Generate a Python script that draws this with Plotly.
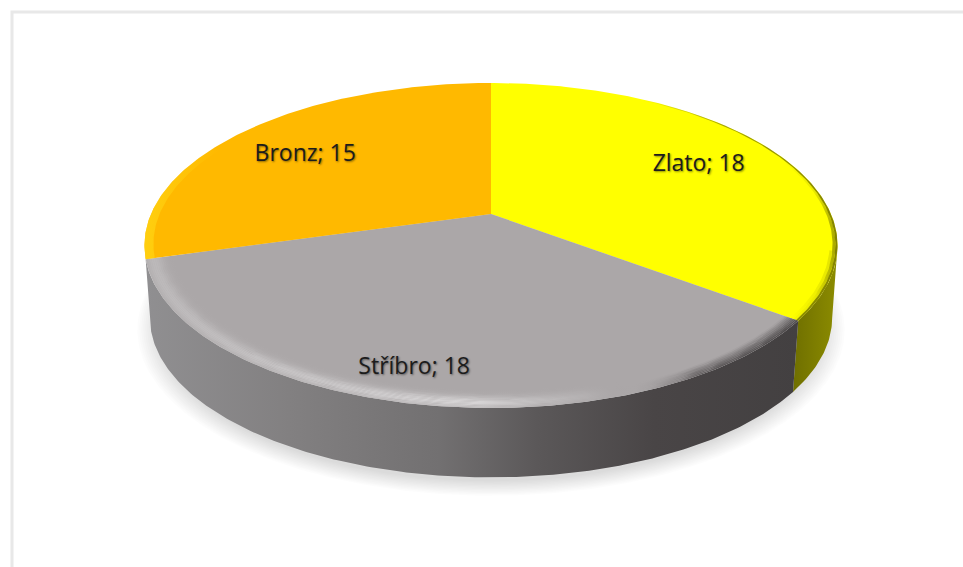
import numpy as np
import plotly.graph_objects as go

categories = ["Zlato", "Stříbro", "Bronz"]
values = [18, 18, 15]
top_colors = ["#ffff00", "#aba7a8", "#ffb900"]

W, H = 963, 567
CX, CY = 491, 214      # apex of the pie on the page
RX, RY, K = 340, 156.4, 0.1938   # perspective projection of the disc
DROP, BASE_SCALE = 73, 0.985
LABEL_RADIUS = 0.74
LABEL_NUDGE = {"Zlato": (-4, 0), "Stříbro": (-23, 22), "Bronz": (-1, 5)}

fracs = np.array(values, float) / sum(values)
edges = np.concatenate([[0], np.cumsum(fracs)]) * 2 * np.pi


def project(theta, r=1.0, drop=0.0):
    u, v = r * np.sin(theta), -r * np.cos(theta)
    s = 1 / (1 - K * v)
    return CX + RX * u * s, CY + drop + RY * v * s


def arc(a, b, r=1.0, drop=0.0):
    n = max(2, int(abs(b - a) * 90))
    return project(np.linspace(a, b, n), r, drop)


fig = go.Figure()


def polygon(x, y, color=None, stops=None):
    kw = {}
    if stops is not None:
        kw["fillgradient"] = dict(type="horizontal", colorscale=stops)
    else:
        kw["fillcolor"] = color
    fig.add_trace(go.Scatter(x=list(x), y=list(y), mode="lines", fill="toself",
                             line=dict(width=0), hoverinfo="skip", showlegend=False, **kw))


def band(a, b, r0, r1, color=None, stops=None):
    xa, ya = arc(a, b, r0)
    xb, yb = arc(b, a, r1)
    polygon(np.r_[xa, xb], np.r_[ya, yb], color, stops)


# page frame (top and left rule)
fig.add_trace(go.Scatter(x=[12, 12, W], y=[H, 12, 12], mode="lines",
                         line=dict(color="#e8e8e8", width=3), hoverinfo="skip", showlegend=False))

# soft shadow under the disc
for scale in np.linspace(1.02, 0.96, 12):
    x, y = arc(0, 2 * np.pi, scale, DROP + 10)
    polygon(x, y, "rgba(0,0,0,0.011)")

# side walls (only the front part of the rim is visible)
vis_a, vis_b = np.pi - np.arccos(K), np.pi + np.arccos(K)
wall_stops = {
    "Zlato": [[0, "#6f6f00"], [1, "#8c8c00"]],
    "Stříbro": [[0, "#908f91"], [0.22, "#828081"], [0.45, "#727071"], [0.6, "#5b5859"],
                [0.78, "#494546"], [1, "#434041"]],
}
for i, name in enumerate(categories):
    a, b = max(edges[i], vis_a), min(edges[i + 1], vis_b)
    if b <= a or name not in wall_stops:
        continue
    xt, yt = arc(a, b)
    xb, yb = arc(b, a, BASE_SCALE, DROP)
    polygon(np.r_[xt, xb], np.r_[yt, yb], stops=wall_stops[name])

# top faces
for i, c in enumerate(top_colors):
    x, y = arc(edges[i], edges[i + 1])
    polygon(np.r_[CX, x], np.r_[CY, y], c)

# soft bevel on the silver face: light on the left and middle, dark on the right
radii = np.linspace(1.0, 0.92, 17)
for r0, r1 in zip(radii[:-1], radii[1:]):
    rm = (r0 + r1) / 2
    light = np.exp(-((rm - 0.978) / 0.024) ** 2)
    dark = 1 - np.clip((1.0 - rm) / 0.04, 0, 1)
    stops = [
        [0, f"rgba(205,203,204,{0.5 * light:.3f})"],
        [0.5, f"rgba(222,220,221,{0.9 * light:.3f})"],
        [0.68, f"rgba(200,198,199,{0.3 * light:.3f})"],
        [0.75, "rgba(150,147,148,0)"],
        [0.85, f"rgba(72,68,69,{0.8 * dark:.3f})"],
        [1, f"rgba(67,64,65,{0.95 * dark:.3f})"],
    ]
    band(edges[1], edges[2], r0, r1, stops=stops)

# olive blur along the gold rim
ol = "110,110,0"
band(0.55, edges[1], 1.0, 0.994, stops=[[0, f"rgba({ol},0)"], [0.4, f"rgba({ol},0.6)"], [1, f"rgba({ol},0.85)"]])
band(1.2, edges[1], 0.994, 0.986, stops=[[0, f"rgba({ol},0)"], [0.6, f"rgba({ol},0.15)"], [1, f"rgba({ol},0.6)"]])
band(1.8, edges[1], 0.986, 0.978, stops=[[0, f"rgba({ol},0)"], [1, f"rgba({ol},0.18)"]])
# brighter edge on the bronze rim
band(edges[2], edges[2] + 0.75, 1.0, 0.975, stops=[[0, "rgba(255,214,20,0.75)"], [1, "rgba(255,214,20,0)"]])

# labels
lx, ly, lt = [], [], []
for i, name in enumerate(categories):
    px, py = project((edges[i] + edges[i + 1]) / 2, LABEL_RADIUS)
    lx.append(float(px) + LABEL_NUDGE[name][0])
    ly.append(float(py) + LABEL_NUDGE[name][1])
    lt.append(f"{name}; {values[i]}")
fig.add_trace(go.Scatter(x=lx, y=ly, mode="text", text=lt, textposition="middle center",
                         textfont=dict(family="Open Sans", size=23, color="#1c1c1c",
                                       shadow="1px 1px 2px rgba(0,0,0,0.45)"),
                         hoverinfo="skip", showlegend=False))

fig.update_layout(
    width=W, height=H, margin=dict(l=0, r=0, t=0, b=0),
    paper_bgcolor="white", plot_bgcolor="white", showlegend=False,
    xaxis=dict(range=[0, W], visible=False, fixedrange=True),
    yaxis=dict(range=[H, 0], visible=False, fixedrange=True),
)
fig.write_html("out.html", config={"displayModeBar": False},
               post_script="document.body.style.margin='0';document.body.style.overflow='hidden';")
